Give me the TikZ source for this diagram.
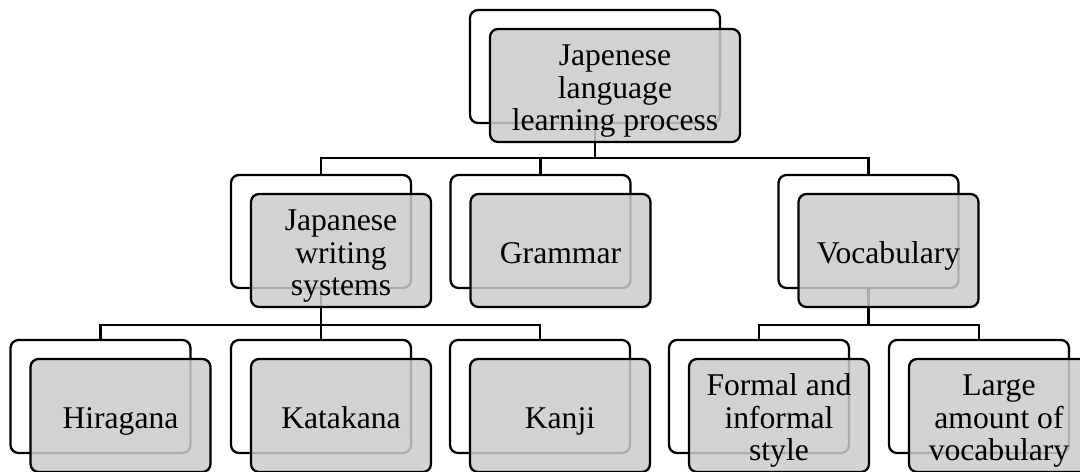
\documentclass[tikz,border=0pt]{standalone}
\usepackage{fontspec}
\setmainfont{Liberation Serif}
\usetikzlibrary{positioning}
\newcommand{\hoch}{\rule{0pt}{20pt}}

\begin{document}
\begin{tikzpicture}[x=0.02cm, y=-0.02cm]
\definecolor{Box_grau}{RGB}{203,203,203}
\tikzset{hinten/.style={rectangle, rounded corners=0.16cm, draw=black, fill=white, line width=1.3pt, minimum width=3.6cm, minimum height=2.26cm},
         vorne/.style={hinten, fill=Box_grau, fill opacity=0.85, text opacity=1, align=center, inner sep=0pt, font=\fontsize{18}{18.5}\selectfont}}
\useasboundingbox (0,0) rectangle (1080,472);

% Hintere Rahmen
\node[hinten, minimum width=5cm] (rootB) at (595,66.5) {};
\foreach \x [count=\i] in {321,540.5,868.5} {
    \node[hinten] (midB\i) at (\x,231.5) {};
}
\foreach \x [count=\i] in {100.5,321,540,759,979} {
    \node[hinten] (leafB\i) at (\x,396.5) {};
}

% Verbindungen
\coordinate (bus1) at (0,158);
\coordinate (bus2) at (0,325);
\foreach \j in {1,2,3} {
    \draw[line width=1.3pt] (rootB.south) -- (rootB.south |- bus1) -| (midB\j.north);
}
\foreach \j in {1,2,3} {
    \draw[line width=1.3pt] (midB1.south) -- (midB1.south |- bus2) -| (leafB\j.north);
}
\foreach \j in {4,5} {
    \draw[line width=1.3pt] (midB3.south) -- (midB3.south |- bus2) -| (leafB\j.north);
}

% Vordere Kaesten mit Text
\node[vorne, minimum width=5cm] (rootF) at ([xshift=0.4cm, yshift=-0.38cm]rootB.center) {\hoch Japenese\\language\\learning process\strut};
\foreach \t [count=\i] in {{Japanese\\writing\\systems},{Grammar},{Vocabulary}} {
    \node[vorne] (midF\i) at ([xshift=0.4cm, yshift=-0.38cm]midB\i.center) {\hoch\t\strut};
}
\foreach \t [count=\i] in {{Hiragana},{Katakana},{Kanji},{Formal and\\informal\\style},{Large\\amount of\\vocabulary}} {
    \node[vorne] (leafF\i) at ([xshift=0.4cm, yshift=-0.38cm]leafB\i.center) {\hoch\t\strut};
}

\end{tikzpicture}
\end{document}
